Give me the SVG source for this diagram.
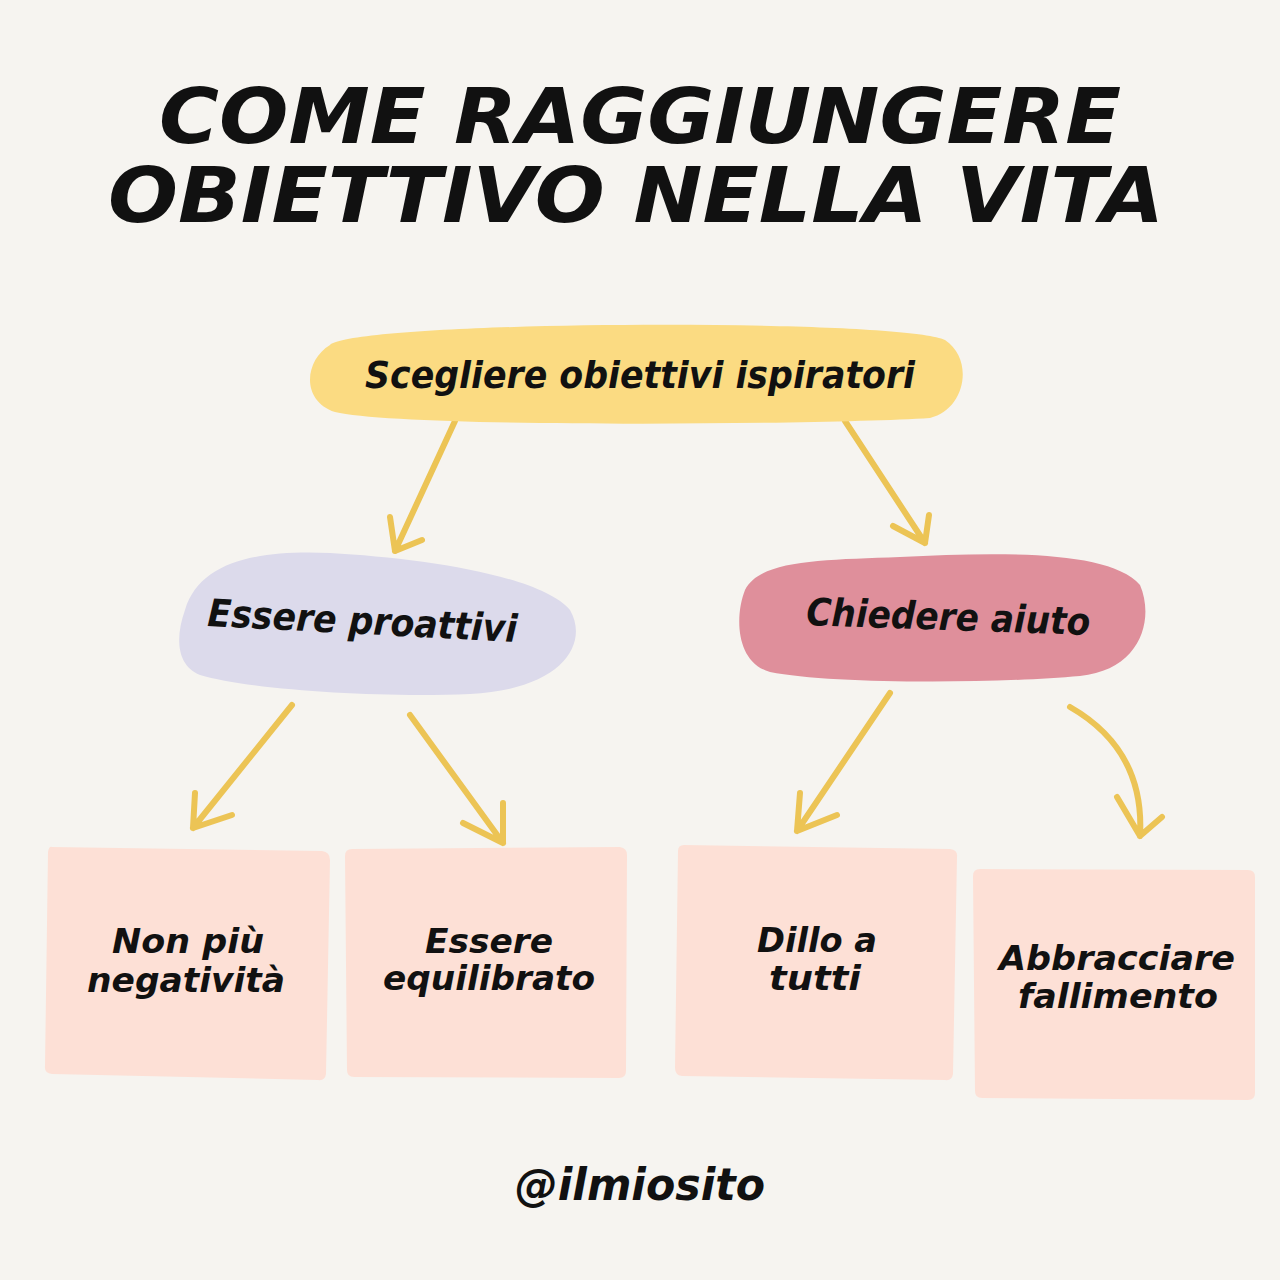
<svg xmlns="http://www.w3.org/2000/svg" width="1280" height="1280" viewBox="0 0 1280 1280">
<style>
.t{font-family:"DejaVu Sans","Liberation Sans",sans-serif;font-weight:bold;font-style:oblique;fill:#111}
.lbl{font-family:"DejaVu Sans","Liberation Sans",sans-serif;font-weight:bold;font-style:oblique;fill:#111;text-anchor:middle}
.box{fill:#fde0d6}
.arr{fill:none;stroke:#ecc455;stroke-width:6;stroke-linecap:round;stroke-linejoin:round}
</style>
<rect width="1280" height="1280" fill="#f6f4f0"/>
<g id="title">
<text class="t" x="640" y="143" font-size="76" text-anchor="middle" textLength="962" lengthAdjust="spacingAndGlyphs">COME RAGGIUNGERE</text>
<text class="t" x="636" y="222" font-size="76" text-anchor="middle" textLength="1056" lengthAdjust="spacingAndGlyphs">OBIETTIVO NELLA VITA</text>
</g>
<g id="connectors">
<path class="arr" d="M455,421 L395,551 M390,517 L395,551 L422,540"/>
<path class="arr" d="M845,421 L925,543 M929,515 L925,543 L893,526"/>
<path class="arr" d="M292,705 L193,828 M195,793 L193,828 L232,815"/>
<path class="arr" d="M410,715 L503,843 M503,803 L503,843 L463,823"/>
<path class="arr" d="M890,693 L797,831 M800,793 L797,831 L837,815"/>
<path class="arr" d="M1070,707 Q1145,750 1140,836 M1117,797 L1140,836 L1162,817"/>
</g>
<g id="node-top">
<path d="M330,345 C360,320 900,318 945,340 C975,360 965,410 930,418 C820,425 400,428 335,412 C300,400 305,360 330,345 Z" fill="#fbdb82"/>
<text class="lbl" x="640" y="388" font-size="38" textLength="550" lengthAdjust="spacingAndGlyphs">Scegliere obiettivi ispiratori</text>
</g>
<g id="node-proattivi">
<path d="M185,610 C200,560 260,550 330,553 C420,558 540,575 570,610 C590,645 560,690 470,694 C380,698 250,690 200,675 C175,665 176,635 185,610 Z" fill="#dcdaeb"/>
<text class="lbl" x="362" y="634" font-size="38" transform="rotate(3 362 630)" textLength="310" lengthAdjust="spacingAndGlyphs">Essere proattivi</text>
</g>
<g id="node-aiuto">
<path d="M745,590 C760,560 820,560 900,557 C1000,552 1110,550 1140,585 C1155,620 1140,670 1080,676 C990,684 830,684 770,672 C735,662 735,615 745,590 Z" fill="#df8f9b"/>
<text class="lbl" x="948" y="630" font-size="38" transform="rotate(2 948 625)" textLength="284" lengthAdjust="spacingAndGlyphs">Chiedere aiuto</text>
</g>
<g id="box-negativita">
<path class="box" d="M52,847 L322,851 Q330,852 330,860 L326,1074 Q325,1081 318,1080 L52,1074 Q44,1073 45,1066 L48,852 Q49,846 52,847 Z"/>
<text class="lbl" x="188" y="953" font-size="34" textLength="152" lengthAdjust="spacingAndGlyphs">Non più</text>
<text class="lbl" x="186" y="992" font-size="34" textLength="198" lengthAdjust="spacingAndGlyphs">negatività</text>
</g>
<g id="box-equilibrato">
<path class="box" d="M352,849 L620,847 Q627,848 627,855 L626,1071 Q626,1078 619,1078 L354,1077 Q347,1077 347,1070 L345,856 Q345,849 352,849 Z"/>
<text class="lbl" x="489" y="953" font-size="34" textLength="128" lengthAdjust="spacingAndGlyphs">Essere</text>
<text class="lbl" x="489" y="990" font-size="34" textLength="212" lengthAdjust="spacingAndGlyphs">equilibrato</text>
</g>
<g id="box-dillo">
<path class="box" d="M684,845 L950,849 Q958,850 957,857 L953,1074 Q952,1081 945,1080 L682,1076 Q675,1075 675,1068 L678,851 Q678,845 684,845 Z"/>
<text class="lbl" x="817" y="952" font-size="34" textLength="120" lengthAdjust="spacingAndGlyphs">Dillo a</text>
<text class="lbl" x="815" y="990" font-size="34" textLength="92" lengthAdjust="spacingAndGlyphs">tutti</text>
</g>
<g id="box-fallimento">
<path class="box" d="M980,869 L1248,870 Q1255,870 1255,877 L1255,1093 Q1255,1100 1248,1100 L982,1098 Q975,1098 975,1091 L973,876 Q973,869 980,869 Z"/>
<text class="lbl" x="1117" y="970" font-size="34" textLength="236" lengthAdjust="spacingAndGlyphs">Abbracciare</text>
<text class="lbl" x="1118" y="1008" font-size="34" textLength="200" lengthAdjust="spacingAndGlyphs">fallimento</text>
</g>
<g id="footer">
<text class="lbl" x="640" y="1200" font-size="44" font-style="normal" textLength="250" lengthAdjust="spacingAndGlyphs">@ilmiosito</text>
</g>
</svg>
